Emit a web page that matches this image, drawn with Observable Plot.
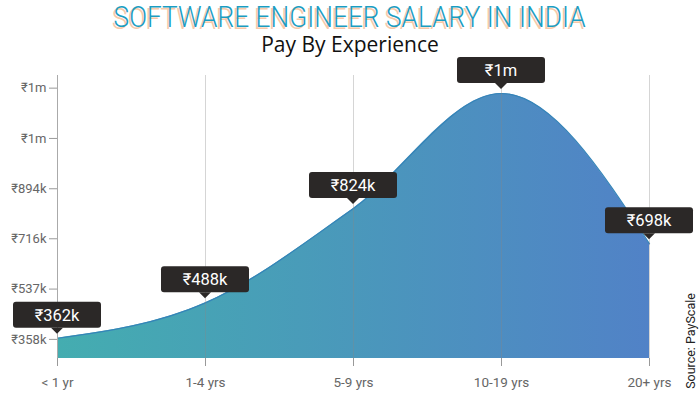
<!DOCTYPE html>
<html>
<head>
<meta charset="utf-8">
<script src="https://cdn.jsdelivr.net/npm/d3@7"></script>
<script src="https://cdn.jsdelivr.net/npm/@observablehq/plot@0.6"></script>
<style>
  body { margin: 0; background: #fff; }
  #wrap { position: relative; width: 700px; height: 400px; overflow: hidden; font-family: Roboto, sans-serif; background: #fff; }
  #title { position: absolute; top: 2px; left: 0; width: 700px; height: 30px; text-align: center; z-index: 2; }
  #titleText { display: inline-block; font-family: Roboto, sans-serif; font-weight: 300; font-size: 29.5px; line-height: 30px;
    color: #1b9dc1; text-shadow: -2px 2px 0 #f7c9a8; white-space: nowrap; transform-origin: 50% 50%; }
  #subtitle { position: absolute; top: 32px; left: 0; width: 700px; text-align: center; z-index: 2;
    font-family: "Open Sans", sans-serif; font-size: 21px; line-height: 24px; color: #111; }
  #chart { position: absolute; top: 50px; left: 0; z-index: 1; }
  #source { position: absolute; left: 690px; top: 341px; transform: translate(-50%, -50%) rotate(-90deg);
    font-family: Roboto, sans-serif; font-size: 12.5px; color: #222; white-space: nowrap; z-index: 2; }
</style>
</head>
<body>
<div id="wrap">
  <div id="title"><span id="titleText">SOFTWARE ENGINEER SALARY IN INDIA</span></div>
  <div id="subtitle">Pay By Experience</div>
  <div id="chart"></div>
  <div id="source">Source: PayScale</div>
</div>
<script>
const categories = ["< 1 yr", "1-4 yrs", "5-9 yrs", "10-19 yrs", "20+ yrs"];
const salaries = [362000, 488000, 824000, 1233000, 698000];
const salaryLabels = ["₹362k", "₹488k", "₹824k", "₹1m", "₹698k"];
const yTicks = [358000, 537000, 716000, 894000, 1073000, 1252000];
const yTickLabels = ["₹358k", "₹537k", "₹716k", "₹894k", "₹1m", "₹1m"];
const yDomain = [290000, 1297000];

const data = categories.map((c, i) => ({exp: c, salary: salaries[i], label: salaryLabels[i]}));
const tickLabel = new Map(yTicks.map((t, i) => [t, yTickLabels[i]]));

// fit title to reference width (narrow look)
const tt = document.getElementById("titleText");
const tw = tt.getBoundingClientRect().width;
tt.style.transform = `scaleX(${472 / tw})`;

function gradientDefs() {
  const defs = d3.create("svg:defs");
  const g = defs.append("linearGradient").attr("id", "salGrad").attr("x1", "0").attr("x2", "1").attr("y1", "0").attr("y2", "0");
  g.append("stop").attr("offset", "0%").attr("stop-color", "#44adb0");
  g.append("stop").attr("offset", "50%").attr("stop-color", "#4a98bb");
  g.append("stop").attr("offset", "100%").attr("stop-color", "#5182c7");
  return defs.node();
}

function tooltips(index, scales) {
  const g = d3.create("svg:g");
  data.forEach(d => {
    const cx = scales.x(d.exp), cy = scales.y(d.salary);
    const w = 88, h = 26, gap = 10;
    const bottom = cy - gap;
    const t = g.append("g");
    t.append("rect").attr("x", cx - w / 2).attr("y", bottom - h).attr("width", w).attr("height", h)
      .attr("rx", 3).attr("fill", "#2b2827");
    t.append("path").attr("d", `M${cx - 6},${bottom}L${cx},${bottom + 6}L${cx + 6},${bottom}Z`).attr("fill", "#2b2827");
    t.append("text").attr("x", cx).attr("y", bottom - h / 2).attr("dy", "0.36em").attr("text-anchor", "middle")
      .attr("fill", "#fff").attr("font-size", 16.5).attr("font-family", "Roboto, sans-serif").text(d.label);
  });
  return g.node();
}

const plot = Plot.plot({
  width: 700,
  height: 350,
  marginLeft: 57,
  marginRight: 51,
  marginTop: 25,
  marginBottom: 42,
  style: {fontFamily: "Roboto, sans-serif", background: "transparent", overflow: "visible"},
  x: {type: "point", domain: categories, padding: 0},
  y: {domain: yDomain},
  marks: [
    gradientDefs,
    Plot.areaY(data, {x: "exp", y1: yDomain[0], y2: "salary", curve: "monotone-x", fill: "url(#salGrad)"}),
    Plot.lineY(data, {x: "exp", y: "salary", curve: "monotone-x", stroke: "#3584b8", strokeWidth: 1.2}),
    Plot.ruleX(categories.slice(1), {stroke: "#888", strokeOpacity: 0.35, strokeWidth: 1}),
    Plot.ruleX([categories[0]], {stroke: "#aaa", strokeWidth: 1}),
    Plot.axisY({ticks: yTicks, tickFormat: d => tickLabel.get(d), tickSize: 8, tickPadding: 3,
      fontSize: 13, color: "#666", stroke: "#999", label: null}),
    Plot.axisX({tickSize: 8, tickPadding: 11, fontSize: 13.5, color: "#666", stroke: "#999", label: null}),
    tooltips
  ]
});
document.getElementById("chart").appendChild(plot);
</script>
</body>
</html>
